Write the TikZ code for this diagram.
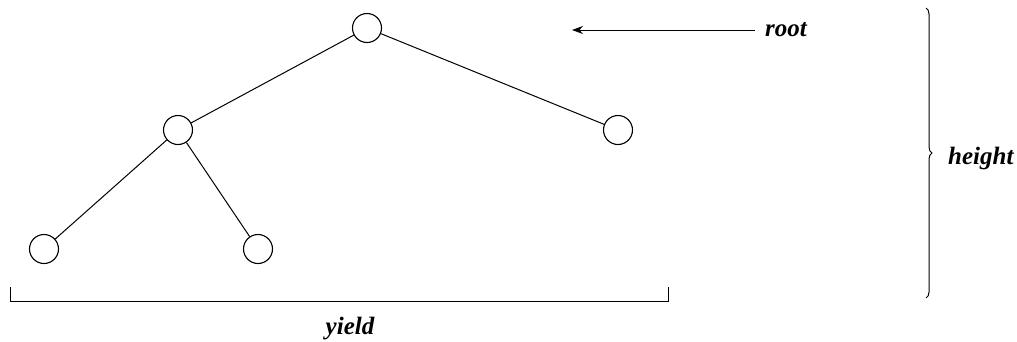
\documentclass[tikz,border=0pt]{standalone}
\usepackage{fontspec}
\setmainfont{Liberation Serif}
\usetikzlibrary{arrows.meta,decorations.pathreplacing}
\begin{document}
\begin{tikzpicture}[x=1pt,y=-1pt,
  treenode/.style={draw,circle,minimum size=29pt,inner sep=0pt,line width=1.1pt},
  edge/.style={line width=1pt},
  lbl/.style={font=\bfseries\itshape\fontsize{25}{27}\selectfont,inner sep=0pt}]
\useasboundingbox (0,0) rectangle (1017,341);
\node[treenode] (r) at (367,28) {};
\node[treenode] (a) at (178,130) {};
\node[treenode] (b) at (618,130) {};
\node[treenode] (c) at (44,249) {};
\node[treenode] (d) at (258,249) {};
\draw[edge] (r) -- (a);
\draw[edge] (r) -- (b);
\draw[edge] (a) -- (c);
\draw[edge] (a) -- (d);
\node[lbl,anchor=west] (rootlbl) at (765,30) {root};
\coordinate (arrtip) at (572,30);
\draw[edge,-{Stealth[length=11pt,width=8pt]}] ([xshift=-10pt]rootlbl.west) -- (arrtip);
\coordinate (bt) at (926,8);
\coordinate (bb) at (926,298);
\draw[line width=1pt,decorate,decoration={brace,amplitude=6pt}] (bt) -- (bb);
\node[lbl,anchor=west] (heightlbl) at (948,158) {height};
\coordinate (yl) at (10,287);
\coordinate (yl2) at (10,301);
\coordinate (yr2) at (668,301);
\coordinate (yr) at (668,287);
\draw[edge] (yl) -- (yl2) -- (yr2) -- (yr);
\node[lbl,anchor=base] (yieldlbl) at (350,334) {yield};
\end{tikzpicture}
\end{document}
